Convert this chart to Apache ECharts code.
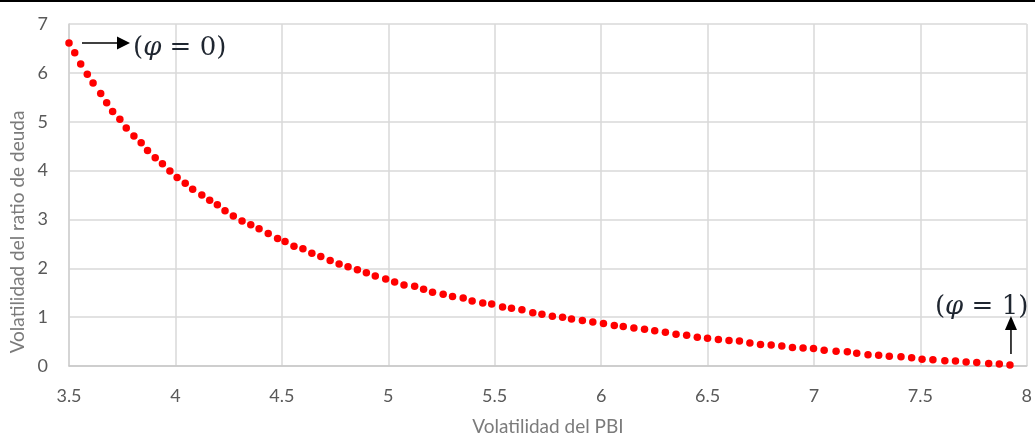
<!DOCTYPE html>
<html>
<head>
<meta charset="utf-8">
<script src="https://cdn.jsdelivr.net/npm/echarts@6/dist/echarts.min.js"></script>
<style>
  html, body { margin: 0; padding: 0; background: #fff; }
  #chart { width: 1035px; height: 441px; }
</style>
</head>
<body>
<div id="chart"></div>
<script>
// Frontier of output volatility vs. debt-ratio volatility, phi from 0 to 1
const pbiVol = [
  3.500, 3.527, 3.555, 3.586, 3.613, 3.649, 3.677, 3.705, 3.739, 3.769,
  3.805, 3.839, 3.869, 3.905, 3.939, 3.974, 4.008, 4.046, 4.081, 4.124,
  4.161, 4.197, 4.233, 4.272, 4.313, 4.354, 4.393, 4.436, 4.480, 4.515,
  4.557, 4.599, 4.641, 4.683, 4.727, 4.769, 4.811, 4.855, 4.897, 4.939,
  4.988, 5.030, 5.074, 5.124, 5.166, 5.208, 5.258, 5.302, 5.352, 5.394,
  5.444, 5.486, 5.537, 5.579, 5.628, 5.679, 5.722, 5.771, 5.819, 5.861,
  5.912, 5.961, 6.011, 6.062, 6.104, 6.154, 6.204, 6.252, 6.302, 6.352,
  6.402, 6.452, 6.500, 6.551, 6.601, 6.650, 6.699, 6.749, 6.799, 6.849,
  6.899, 6.949, 6.998, 7.048, 7.104, 7.157, 7.201, 7.254, 7.304, 7.354,
  7.409, 7.459, 7.508, 7.559, 7.615, 7.665, 7.715, 7.765, 7.821, 7.871, 7.921
];
const deudaVol = [
  6.61, 6.41, 6.18, 5.97, 5.79, 5.58, 5.39, 5.21, 5.05, 4.87,
  4.71, 4.57, 4.41, 4.26, 4.14, 3.99, 3.86, 3.74, 3.62, 3.50,
  3.39, 3.30, 3.18, 3.07, 2.97, 2.89, 2.81, 2.71, 2.61, 2.55,
  2.45, 2.40, 2.31, 2.24, 2.16, 2.09, 2.03, 1.97, 1.91, 1.84,
  1.78, 1.72, 1.66, 1.63, 1.57, 1.51, 1.47, 1.42, 1.39, 1.33,
  1.29, 1.27, 1.21, 1.18, 1.15, 1.09, 1.06, 1.02, 1.00, 0.96,
  0.93, 0.90, 0.87, 0.83, 0.81, 0.78, 0.75, 0.72, 0.69, 0.65,
  0.63, 0.59, 0.57, 0.54, 0.52, 0.51, 0.47, 0.44, 0.43, 0.41,
  0.38, 0.37, 0.36, 0.32, 0.30, 0.29, 0.26, 0.23, 0.22, 0.20,
  0.19, 0.17, 0.14, 0.13, 0.11, 0.10, 0.08, 0.07, 0.05, 0.04, 0.02
];
const xTitle = 'Volatilidad del PBI';
const yTitle = 'Volatilidad del ratio de deuda';
const startLabel = '0';
const endLabel = '1';

const points = pbiVol.map((x, i) => [x, deudaVol[i]]);

const FONT = 'Lato, "Open Sans", "Liberation Sans", sans-serif';
const MATH_FONT = '"DejaVu Serif", "Liberation Serif", serif';
const GRID_COLOR = '#d9d9d9';

const chart = echarts.init(document.getElementById('chart'), null, { renderer: 'canvas' });

chart.setOption({
  animation: false,
  backgroundColor: '#ffffff',
  grid: { left: 69, right: 6, top: 24, bottom: 71, containLabel: false },
  xAxis: {
    type: 'value',
    min: 3.5,
    max: 8,
    interval: 0.5,
    name: xTitle,
    nameLocation: 'middle',
    nameGap: 51,
    nameTextStyle: { color: '#7b7b7b', fontFamily: FONT, fontSize: 19 },
    axisLine: { show: true, lineStyle: { color: '#c8c8c8', width: 1.5 } },
    axisTick: { show: false },
    axisLabel: { color: '#595959', fontFamily: FONT, fontSize: 18, margin: 21 },
    splitLine: { show: true, lineStyle: { color: GRID_COLOR, width: 1.5 } }
  },
  yAxis: {
    type: 'value',
    min: 0,
    max: 7,
    interval: 1,
    axisLine: { show: true, lineStyle: { color: '#d0d0d0', width: 1.5 } },
    axisTick: { show: false },
    axisLabel: { color: '#595959', fontFamily: FONT, fontSize: 18, margin: 21 },
    splitLine: { show: true, lineStyle: { color: GRID_COLOR, width: 1.5 } }
  },
  series: [{
    type: 'scatter',
    data: points,
    symbol: 'circle',
    symbolSize: 7.5,
    itemStyle: { color: '#ff0000', opacity: 1 },
    silent: true
  }]
});

// Annotation arrows and labels anchored on the first and last points
const p0 = chart.convertToPixel({ gridIndex: 0 }, points[0]);
const pN = chart.convertToPixel({ gridIndex: 0 }, points[points.length - 1]);

function mathText(value) {
  return {
    text: '{p|(}{i|φ}{p| = ' + value + ')}',
    rich: {
      p: { fontFamily: MATH_FONT, fontSize: 26, fill: '#1f2630' },
      i: { fontFamily: MATH_FONT, fontSize: 26, fontStyle: 'italic', fill: '#1f2630' }
    }
  };
}

const arrowColor = '#000000';

chart.setOption({
  graphic: [
    // thin dark rule across the top edge
    { type: 'rect', left: 0, top: 0, shape: { width: 1035, height: 2 }, style: { fill: '#000' }, silent: true },
    // vertical y-axis title
    {
      type: 'text', x: 18, y: 232, rotation: Math.PI / 2,
      style: { text: yTitle, fontFamily: FONT, fontSize: 19, fill: '#7b7b7b', align: 'center', verticalAlign: 'middle' },
      silent: true
    },
    // arrow pointing right from phi = 0
    {
      type: 'line',
      shape: { x1: p0[0] + 13, y1: p0[1], x2: p0[0] + 50, y2: p0[1] },
      style: { stroke: arrowColor, lineWidth: 1.5 }, silent: true
    },
    {
      type: 'polygon',
      shape: { points: [[p0[0] + 48, p0[1] - 6.5], [p0[0] + 61, p0[1]], [p0[0] + 48, p0[1] + 6.5]] },
      style: { fill: arrowColor }, silent: true
    },
    {
      type: 'text', x: p0[0] + 64, y: p0[1] + 5,
      style: Object.assign(mathText(startLabel), { verticalAlign: 'middle', align: 'left' }),
      silent: true
    },
    // arrow pointing up from phi = 1
    {
      type: 'line',
      shape: { x1: pN[0] + 1, y1: pN[1] - 11, x2: pN[0] + 1, y2: pN[1] - 36 },
      style: { stroke: arrowColor, lineWidth: 1.5 }, silent: true
    },
    {
      type: 'polygon',
      shape: { points: [[pN[0] - 5, pN[1] - 35], [pN[0] + 1, pN[1] - 49], [pN[0] + 7, pN[1] - 35]] },
      style: { fill: arrowColor }, silent: true
    },
    {
      type: 'text', x: pN[0] - 75, y: pN[1] - 58,
      style: Object.assign(mathText(endLabel), { verticalAlign: 'middle', align: 'left' }),
      silent: true
    }
  ]
});
</script>
</body>
</html>
